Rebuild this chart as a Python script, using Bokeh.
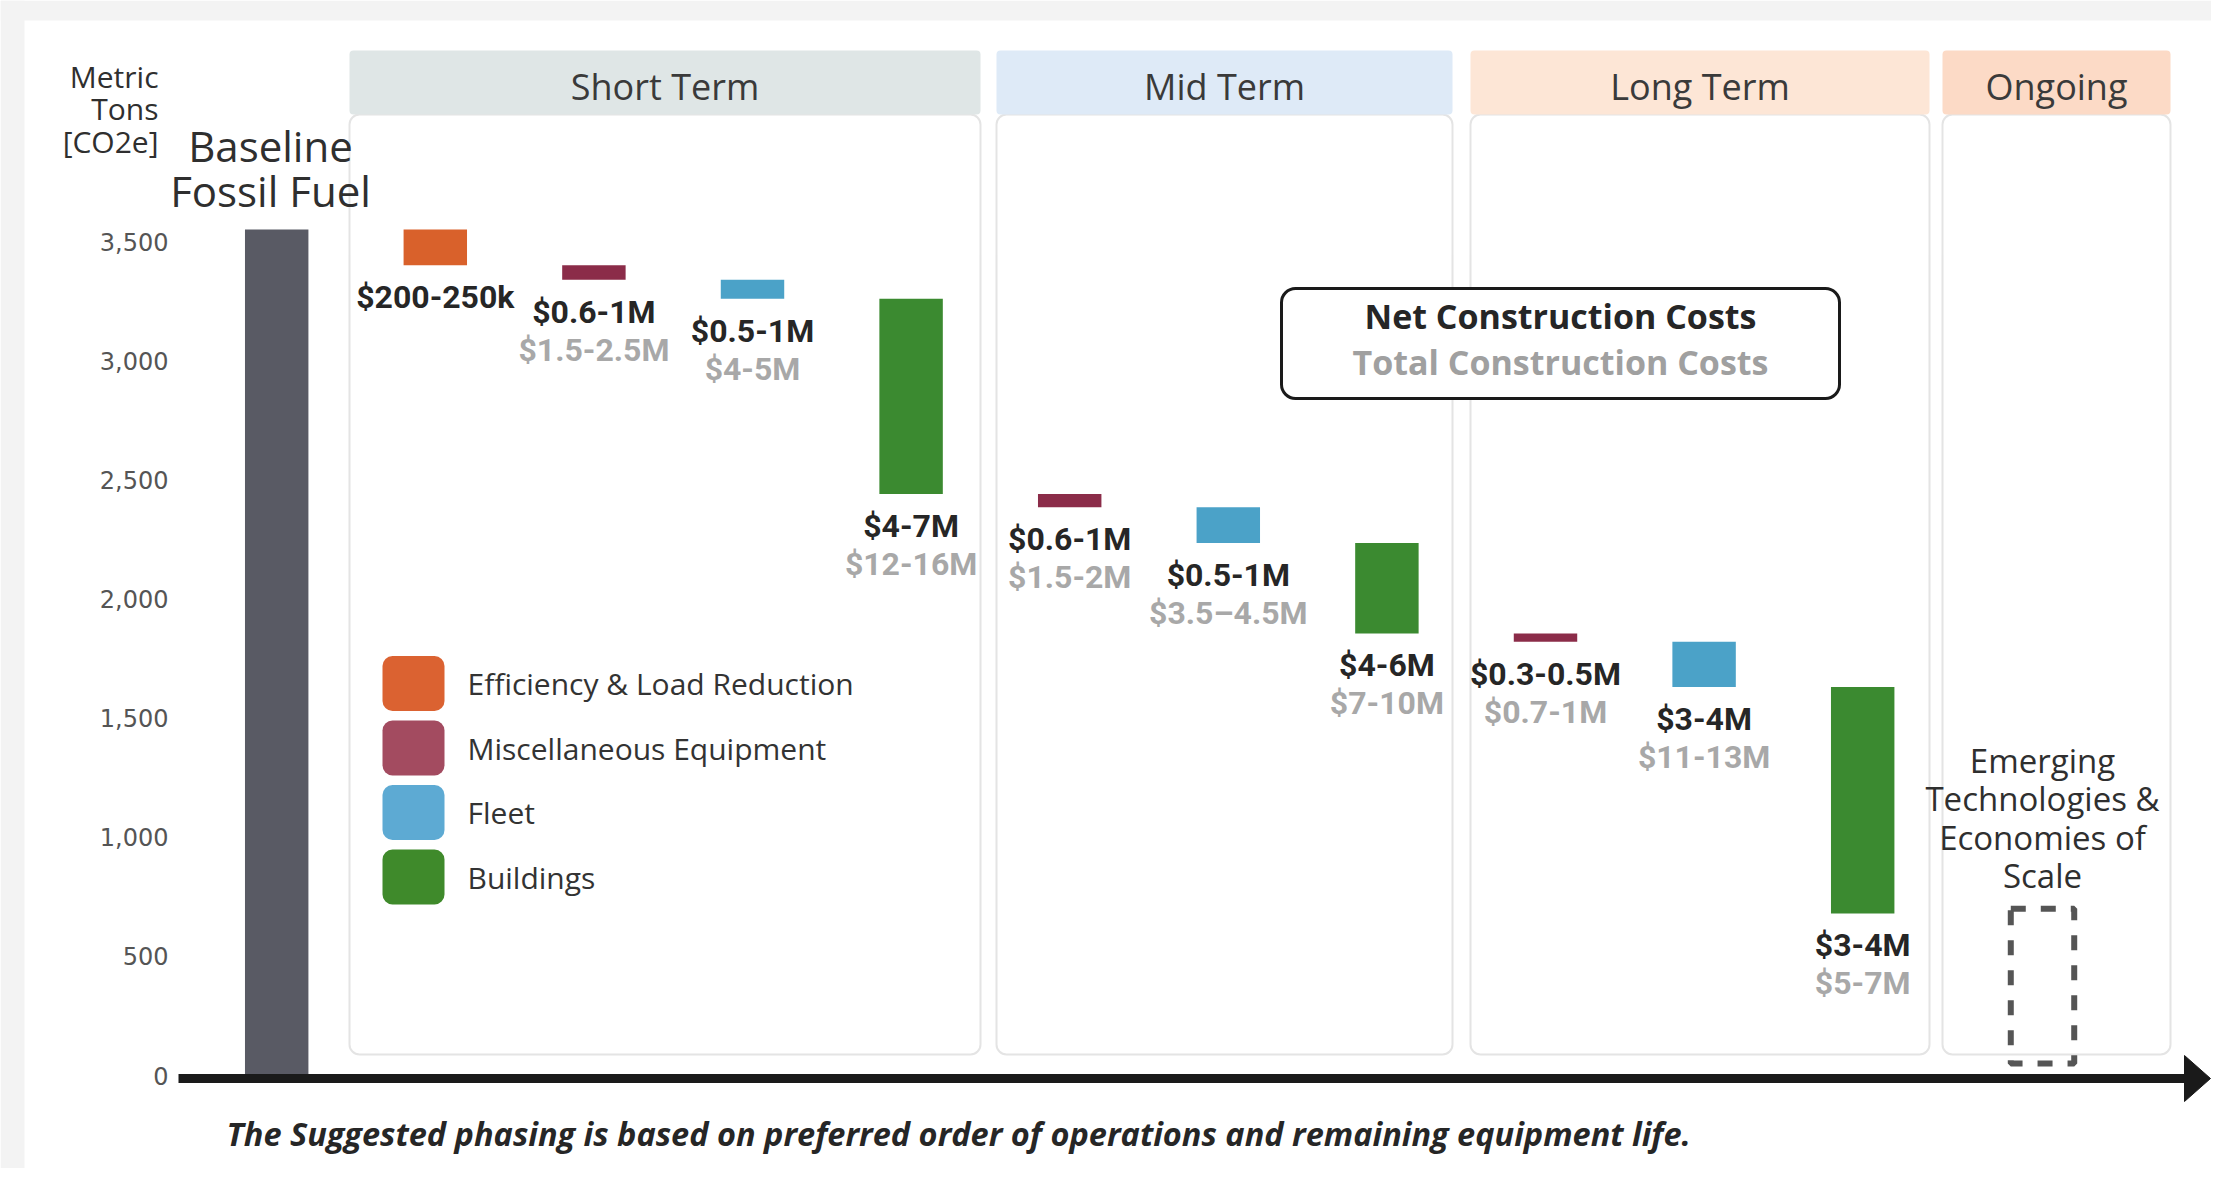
from bokeh.plotting import figure
from bokeh.models import ColumnDataSource, FixedTicker, NumeralTickFormatter
from bokeh.core.properties import value
from bokeh.embed import file_html
from bokeh.resources import INLINE

# ---------------- data ----------------
phases = ["Short Term", "Mid Term", "Long Term", "Ongoing"]
categories = ["Efficiency & Load Reduction", "Miscellaneous Equipment", "Fleet", "Buildings"]
baseline_lines = ["Baseline", "Fossil Fuel"]
baseline_value = 3550
step_category = ["Efficiency & Load Reduction", "Miscellaneous Equipment", "Fleet", "Buildings",
                 "Miscellaneous Equipment", "Fleet", "Buildings",
                 "Miscellaneous Equipment", "Fleet", "Buildings"]
step_phase = ["Short Term"] * 4 + ["Mid Term"] * 3 + ["Long Term"] * 3
step_reduction = [150, 60, 80, 820, 55, 150, 380, 35, 190, 950]
net_costs = ["$200-250k", "$0.6-1M", "$0.5-1M", "$4-7M", "$0.6-1M", "$0.5-1M", "$4-6M",
             "$0.3-0.5M", "$3-4M", "$3-4M"]
total_costs = ["", "$1.5-2.5M", "$4-5M", "$12-16M", "$1.5-2M", "$3.5\u20134.5M", "$7-10M",
               "$0.7-1M", "$11-13M", "$5-7M"]
emerging_lines = ["Emerging", "Technologies &", "Economies of", "Scale"]
emerging_top = 700
emerging_bottom = 50
y_ticks = [0, 500, 1000, 1500, 2000, 2500, 3000, 3500]
y_label_lines = ["Metric", "Tons", "[CO2e]"]
key_net = "Net Construction Costs"
key_total = "Total Construction Costs"
footnote = "The Suggested phasing is based on preferred order of operations and remaining equipment life."

# ---------------- styles ----------------
bar_colors = {"Efficiency & Load Reduction": "#d9612b", "Miscellaneous Equipment": "#8b2c49",
              "Fleet": "#4ba2c8", "Buildings": "#3b8a30"}
legend_colors = {"Efficiency & Load Reduction": "#db6231", "Miscellaneous Equipment": "#a34b60",
                 "Fleet": "#5daad3", "Buildings": "#3f8a2b"}
header_colors = ["#dfe6e6", "#deeaf7", "#fde6d6", "#fcdac6"]
baseline_color = "#595a64"
BAR_W = 0.40

# ---------------- layout helpers (pixel -> data, for decorations only) ----------------
W, H = 2211, 1168
X0PX, XSTEP = 276.2, 158.6          # pixel of category 0, pixels per category
Y0PX, UPP = 1075.0, 3500 / 834.0    # pixel of value 0, units per pixel


def X(px):
    return (px - X0PX) / XSTEP


def Y(py):
    return (Y0PX - py) * UPP


p = figure(width=W, height=H, output_backend="svg", toolbar_location=None, title=None,
           x_range=(X(0), X(W)), y_range=(Y(H), Y(0)), x_axis_location=None,
           min_border_left=0, min_border_right=0, min_border_top=0, min_border_bottom=0,
           background_fill_color="white", border_fill_color="white", outline_line_color=None)
p.grid.visible = False

ax = p.yaxis[0]
ax.fixed_location = X(172)
ax.ticker = FixedTicker(ticks=y_ticks)
ax.formatter = NumeralTickFormatter(format="0,0")
ax.axis_line_color = None
ax.major_tick_line_color = None
ax.minor_tick_line_color = None
ax.major_tick_out = 0
ax.major_tick_in = 0
ax.major_label_standoff = 4
ax.major_label_text_font = "DejaVu Sans"
ax.major_label_text_font_size = "24px"
ax.major_label_text_color = "#555555"


def quad(**kw):
    try:
        return p.quad(**kw)
    except AttributeError:
        kw.pop("border_radius", None)
        return p.quad(**kw)


# card background edges
quad(left=[X(0)], right=[X(W)], top=[Y(0)], bottom=[Y(20)], fill_color="#f3f3f3", line_color=None)
quad(left=[X(0)], right=[X(24)], top=[Y(0)], bottom=[Y(H)], fill_color="#f3f3f3", line_color=None)

# phase panels
phase_left = [X(349), X(996), X(1470), X(1942)]
phase_right = [X(980), X(1452), X(1929), X(2170)]
HDR_TOP, HDR_BOT, PANEL_BOT = Y(50), Y(114), Y(1054)
quad(left=phase_left, right=phase_right, top=HDR_BOT, bottom=PANEL_BOT,
     fill_color="white", line_color="#e4e4e4", line_width=2, border_radius=10)
quad(left=phase_left, right=phase_right, top=HDR_TOP, bottom=HDR_BOT,
     fill_color=header_colors, line_color=None, border_radius=4)
p.text(x=[(a + b) / 2 for a, b in zip(phase_left, phase_right)], y=[Y(86)] * len(phases),
       text=phases, text_align="center", text_baseline="middle",
       text_font=value("Open Sans"), text_font_size="36px", text_color="#3a3a3a")

# y label
p.text(x=[X(158)] * 3, y=[Y(76), Y(108), Y(141)], text=y_label_lines, text_align="right",
       text_baseline="middle", text_font=value("Open Sans"), text_font_size="30px",
       text_color="#2f2f2f")

# baseline bar
p.vbar(x=[0], top=[baseline_value], bottom=[0], width=BAR_W,
       fill_color=baseline_color, line_color=None)
p.text(x=[X(270), X(270)], y=[Y(145), Y(190)], text=baseline_lines, text_align="center",
       text_baseline="middle", text_font=value("Open Sans"), text_font_size="42px",
       text_color="#2f2f2f")

# waterfall steps
tops, bottoms = [], []
level = baseline_value
for r in step_reduction:
    tops.append(level)
    level -= r
    bottoms.append(level)
xs = list(range(1, len(step_reduction) + 1))
src = ColumnDataSource(dict(x=xs, top=tops, bottom=bottoms,
                            color=[bar_colors[c] for c in step_category],
                            net=net_costs, total=total_costs))
p.vbar(x="x", top="top", bottom="bottom", width=BAR_W, fill_color="color",
       line_color=None, source=src)
p.text(x="x", y="bottom", text="net", source=src, y_offset=32, text_align="center",
       text_baseline="middle", text_font=value("Roboto"), text_font_style="bold",
       text_font_size="32px", text_color="#262626")
p.text(x="x", y="bottom", text="total", source=src, y_offset=70, text_align="center",
       text_baseline="middle", text_font=value("Roboto"), text_font_style="bold",
       text_font_size="32px", text_color="#a8a8a8")

# emerging technologies (dashed placeholder)
EX = X(2042)
quad(left=[EX - BAR_W / 2], right=[EX + BAR_W / 2], top=[emerging_top], bottom=[emerging_bottom],
     fill_color=None, line_color="#555555", line_width=6, line_dash="15 15")
p.text(x=[EX] * len(emerging_lines), y=[Y(760), Y(798), Y(837), Y(875)], text=emerging_lines,
       text_align="center", text_baseline="middle", text_font=value("Open Sans"),
       text_font_size="33px", text_color="#2f2f2f")

# legend
LX, LW, LH = X(413), 62 / XSTEP, 55 * UPP
ly = [Y(683 + 64.5 * i) for i in range(len(categories))]
quad(left=[LX - LW / 2] * len(categories), right=[LX + LW / 2] * len(categories),
     top=[y + LH / 2 for y in ly], bottom=[y - LH / 2 for y in ly],
     fill_color=[legend_colors[c] for c in categories], line_color=None, border_radius=10)
p.text(x=[X(467)] * len(categories), y=ly, text=categories, text_align="left",
       text_baseline="middle", text_font=value("Open Sans"), text_font_size="30px",
       text_color="#333333")

# cost key box
quad(left=[X(1281)], right=[X(1839)], top=[Y(288)], bottom=[Y(398)], fill_color="white",
     line_color="#1a1a1a", line_width=3, border_radius=14)
p.text(x=[X(1560)], y=[Y(315)], text=[key_net], text_align="center", text_baseline="middle",
       text_font=value("Open Sans"), text_font_style="bold", text_font_size="34px",
       text_color="#262626")
p.text(x=[X(1560)], y=[Y(361)], text=[key_total], text_align="center", text_baseline="middle",
       text_font=value("Open Sans"), text_font_style="bold", text_font_size="34px",
       text_color="#a0a0a0")

# time arrow (x axis)
AY = Y(1078)
p.segment(x0=[X(178)], y0=[AY], x1=[X(2186)], y1=[AY], line_width=9, line_color="#1a1a1a")
p.patch(x=[X(2184), X(2210), X(2184)], y=[Y(1055), AY, Y(1101)], fill_color="#1a1a1a",
        line_color="#1a1a1a")

# footnote
p.text(x=[X(226)], y=[Y(1133)], text=[footnote], text_align="left", text_baseline="middle",
       text_font=value("Open Sans"), text_font_style="bold italic", text_font_size="32.5px",
       text_color="#262626")

open("out.html", "w").write(file_html(p, INLINE))
